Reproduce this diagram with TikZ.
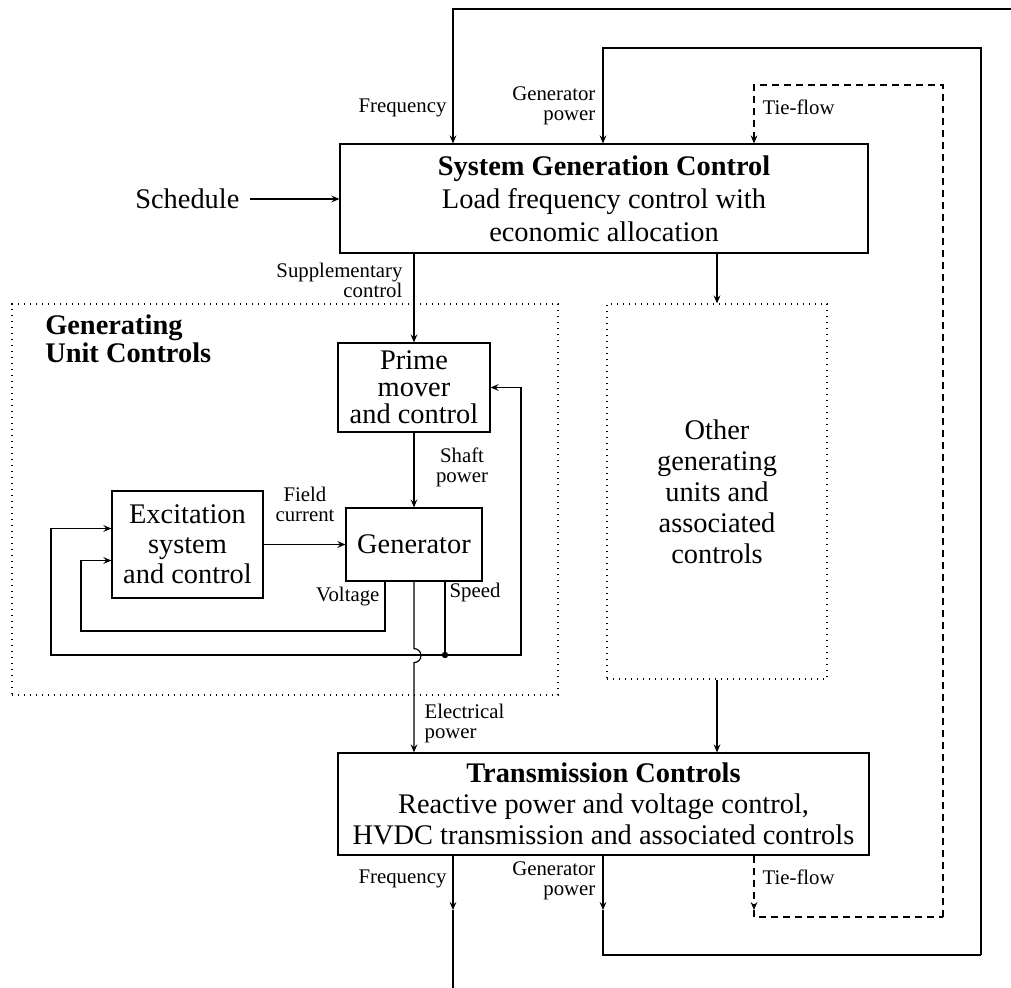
\documentclass[tikz,border=0pt]{standalone}
\usepackage{fontspec}
\setmainfont{Liberation Serif}
\usepackage{tikz}
\usetikzlibrary{arrows.meta, positioning, calc}

\begin{document}
\begin{tikzpicture}[
  x=0.5pt, y=-0.5pt,
  line width=0.6pt,
  big/.style={font=\fontsize{14.2}{15}\selectfont},
  lbl/.style={font=\fontsize{10.4}{10}\selectfont, inner sep=0pt},
  block/.style={draw, big, align=center, inner sep=0pt},
  area/.style={draw, big, align=center, inner sep=0pt, dash pattern=on 0.6pt off 2.4pt},
  arrow/.style={-{Stealth[length=4pt, width=3.4pt, inset=1.4pt]}}
]
  \useasboundingbox (0,0) rectangle (1011,988);

  % Dotted areas
  \node[area, minimum width=273pt, minimum height=195.5pt] (guc) at (285,499.5) {};
  \node[area, minimum width=110pt, minimum height=187.5pt, font=\fontsize{14.2}{15.5}\selectfont] (other) at (717,491.5) {Other\\generating\\units and\\associated\\controls};
  \node[big, font=\fontsize{14.2}{14}\selectfont\bfseries, anchor=west, align=left] (guclab) at (38,339) {Generating\\Unit Controls};

  % Main blocks
  \node[block, minimum width=264pt, minimum height=54.5pt, font=\fontsize{14.2}{16.5}\selectfont] (sgc) at (604,198.5)
    {\textbf{System Generation Control}\\Load frequency control with\\economic allocation};
  \node[block, minimum width=265.5pt, minimum height=51pt, font=\fontsize{14.2}{15.5}\selectfont] (tc) at (603.5,804)
    {\textbf{Transmission Controls}\\Reactive power and voltage control,\\HVDC transmission and associated controls};
  \node[block, minimum width=76pt, minimum height=44.5pt, font=\fontsize{14.2}{13.5}\selectfont] (prime) at (414,387.5) {Prime\\mover\\and control};
  \node[block, minimum width=68pt, minimum height=36.5pt] (gen) at (414,544.5) {Generator};
  \node[block, minimum width=75.5pt, minimum height=53.5pt] (exc) at (187.5,544.5) {Excitation\\system\\and control};

  % Schedule input
  \node[big, inner sep=0pt, anchor=east] (sched) at (240,199) {Schedule};
  \draw[arrow] ([xshift=5pt]sched.east) -- (sched.east -| sgc.west);

  % Forward path
  \draw[arrow] (prime.north |- sgc.south) -- (prime.north);
  \node[lbl, anchor=east, align=right] (supp) at (403,280) {Supplementary\\control};
  \draw[arrow] (prime) -- (gen);
  \node[lbl, align=center] (shaft) at (462,467) {Shaft\\power};
  \draw[arrow] (exc) -- (gen);
  \node[lbl, align=center] (field) at (305,504) {Field\\current};
  \draw[arrow] (other.north |- sgc.south) -- (other.north);
  \draw[arrow] (other.south) -- (other.south |- tc.north);

  % Unit feedback loops
  \coordinate (vo) at (385,631);
  \coordinate (vloop) at (81,631);
  \draw[arrow] (vo |- gen.south) |- (vloop) |- ([yshift=-8pt]exc.west);
  \node[lbl, anchor=east] (volt) at (380,597) {Voltage};
  \coordinate (sp) at (445,655);
  \coordinate (oloop) at (51,655);
  \coordinate (pback) at (521,655);
  \draw (sp |- gen.south) -- (sp);
  \fill (sp) circle (1.6pt);
  \node[lbl, anchor=west] (speed) at (449,592) {Speed};
  \draw[arrow] (sp) -- (pback) |- (prime.east);
  \draw[arrow] (sp) -- (oloop) |- ([yshift=8pt]exc.west);

  % Electrical power, hopping over the speed line
  \draw[arrow] (gen.south) -- ++(0,67) arc[start angle=90, end angle=-90, radius=3.5pt] -- (gen.south |- tc.north);
  \node[lbl, anchor=west, align=left] (elec) at (424,723) {Electrical\\power};

  % System feedback
  \coordinate (fq) at (453,9);
  \coordinate (fqend) at (1011,9);
  \coordinate (fqlow) at (453,988);
  \coordinate (gp) at (603,48);
  \coordinate (gpR) at (981,955);
  \coordinate (tf) at (754,85);
  \coordinate (tfR) at (943,917);
  \coordinate (tipy) at (0,910);
  \draw[arrow] (fqend) -- (fq) -- (fq |- sgc.north);
  \draw[arrow] (gpR) |- (gp) -- (gp |- sgc.north);
  \draw[arrow, dash pattern=on 3.5pt off 2.5pt] (tfR) |- (tf) -- (tf |- sgc.north);
  \draw[arrow] (fq |- tc.south) -- (fq |- tipy);
  \draw (fq |- tipy) -- (fqlow);
  \draw[arrow] (gp |- tc.south) -- (gp |- tipy);
  \draw (gp |- tipy) |- (gpR);
  \draw[arrow, dash pattern=on 3.5pt off 2.5pt] (tf |- tc.south) -- (tf |- tipy);
  \draw[dash pattern=on 3.5pt off 2.5pt] (tf |- tipy) |- (tfR);

  % Feedback labels
  \node[lbl, anchor=east] (fqtop) at (447,108) {Frequency};
  \node[lbl, anchor=east, align=right] (gptop) at (596,106) {Generator\\power};
  \node[lbl, anchor=west] (tftop) at (762,107) {Tie-flow};
  \node[lbl, anchor=east] (fqbot) at (447,879) {Frequency};
  \node[lbl, anchor=east, align=right] (gpbot) at (596,881) {Generator\\power};
  \node[lbl, anchor=west] (tfbot) at (762,877) {Tie-flow};

\end{tikzpicture}
\end{document}
